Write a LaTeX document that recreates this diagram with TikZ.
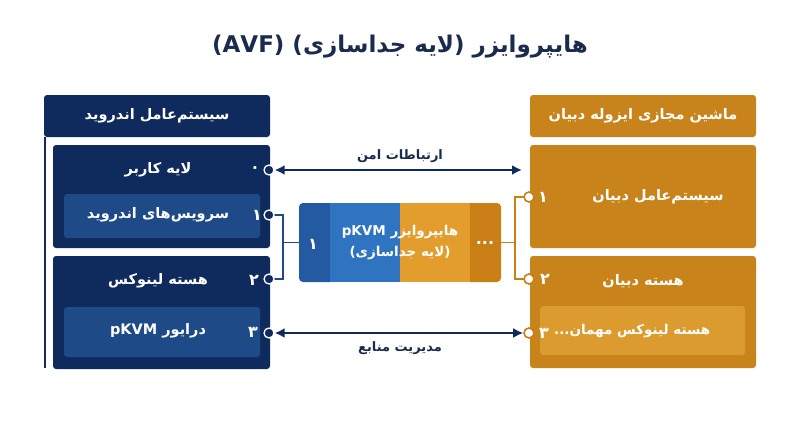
\documentclass[tikz,border=0pt]{standalone}
\usepackage{fontspec}
\newfontfamily\fa[Script=Arabic]{DejaVu Sans}
\TeXXeTstate=1
\usetikzlibrary{arrows.meta}
\definecolor{navy}{HTML}{0F2A5C}
\definecolor{navyin}{HTML}{1E4A88}
\definecolor{titlec}{HTML}{1A2B4E}
\definecolor{orng}{HTML}{C8841A}
\definecolor{orngin}{HTML}{DC9B2E}
\definecolor{hbA}{HTML}{235AA2}
\definecolor{hbB}{HTML}{2E74C1}
\definecolor{hoA}{HTML}{E39D2C}
\definecolor{hoB}{HTML}{C97F16}
\newcommand\RL[1]{\beginR#1\endR}
\begin{document}
\begin{tikzpicture}[x=1pt,y=-1pt,
  box/.style={rectangle, rounded corners=3pt, inner sep=0pt, draw=none},
  txt/.style={font=\fa\bfseries\fontsize{14.5}{17}\selectfont, text=white, inner sep=0pt},
  htxt/.style={font=\fa\bfseries\fontsize{13.5}{16}\selectfont, text=white, inner sep=0pt},
  num/.style={font=\fa\bfseries\fontsize{16}{18}\selectfont, text=white, inner sep=0pt},
  lbl/.style={font=\fa\bfseries\fontsize{13}{15}\selectfont, text=titlec, inner sep=0pt},
  lport/.style={circle, fill=navy, draw=white, line width=1.3pt, minimum size=10pt, inner sep=0pt},
  rport/.style={circle, fill=white, draw=hoB, line width=1.6pt, minimum size=10pt, inner sep=0pt},
  navline/.style={draw=navyin, line width=1.6pt},
  orline/.style={draw=hoB, line width=1.6pt},
  arr/.style={draw=navy, line width=2pt, {Latex[length=10pt,width=10pt]}-{Latex[length=10pt,width=10pt]}},
  seg/.style={rectangle, inner sep=0pt, draw=none, minimum height=79pt}
]
\useasboundingbox[fill=white] (0,0) rectangle (800,447);

% title
\node[font=\fa\bfseries\fontsize{23}{27}\selectfont, text=titlec, inner sep=0pt] (title) at (400,47)
  {\RL{هایپروایزر (لایه جداسازی) \beginL(AVF)\endL}};

% ---------- left column ----------
\node[box, fill=navy, minimum width=226pt, minimum height=42pt] (lhead) at (157,116) {};
\node[txt] (lheadt) at (lhead) {\RL{سیستم‌عامل اندروید}};
\draw[navy, line width=2pt] (lhead.south west) ++(1.5,0) coordinate (lvtop) -- ++(0,231) coordinate (lvbot);

\node[box, fill=navy, minimum width=217pt, minimum height=103pt] (lbox1) at (161.5,196.5) {};
\node[box, fill=navyin, minimum width=196pt, minimum height=44pt] (lin1) at (162,216) {};
\node[box, fill=navy, minimum width=217pt, minimum height=113pt] (lbox2) at (161.5,312.5) {};
\node[box, fill=navyin, minimum width=196pt, minimum height=50pt] (lin2) at (162,332) {};

\node[txt] (tuser) at (158,170) {\RL{لایه کاربر}};
\node[txt] (tserv) at (158,215) {\RL{سرویس‌های اندروید}};
\node[txt] (tlk) at (158,281) {\RL{هسته لینوکس}};
\node[txt] (tdrv) at (158,331) {\RL{درایور \beginL pKVM\endL}};

\node[num] (n0) at (255,170) {\RL{۰}};
\node[num] (n1) at (257,215) {\RL{۱}};
\node[num] (n2) at (254,280) {\RL{۲}};
\node[num] (n3) at (253,332) {\RL{۳}};

% ---------- right column ----------
\node[box, fill=orng, minimum width=226pt, minimum height=42pt] (rhead) at (643,116) {};
\node[txt] (rheadt) at (rhead) {\RL{ماشین مجازی ایزوله دبیان}};
\node[box, fill=orng, minimum width=226pt, minimum height=103pt] (rbox1) at (643,196.5) {};
\node[box, fill=orng, minimum width=226pt, minimum height=112pt] (rbox2) at (643,312) {};
\node[box, fill=orngin, minimum width=205pt, minimum height=49pt] (rin2) at (642.5,330.5) {};

\node[txt] (tdos) at (658,197) {\RL{سیستم‌عامل دبیان}};
\node[txt] (tdk) at (643,281) {\RL{هسته دبیان}};
\node[txt, font=\fa\bfseries\fontsize{13.5}{16}\selectfont, anchor=west] (tguest) at (554,331) {\RL{هسته لینوکس مهمان...}};

\node[num] (m1) at (543,197) {\RL{۱}};
\node[num] (m2) at (545,279) {\RL{۲}};
\node[num] (m3) at (544,333) {\RL{۳}};

% ---------- hypervisor ----------
\node[seg, fill=hbA, rounded corners=4pt, minimum width=35pt] (hs1) at (316.5,242.5) {};
\node[seg, fill=hbB, minimum width=70pt] (hs2) at (365,242.5) {};
\node[seg, fill=hoB, rounded corners=4pt, minimum width=35pt] (hs4) at (483.5,242.5) {};
\node[seg, fill=hoA, minimum width=70pt] (hs3) at (435,242.5) {};
\node[htxt] (hyt1) at (400,232) {\RL{هایپروایزر \beginL pKVM\endL}};
\node[htxt] (hyt2) at (400,253) {\RL{(لایه جداسازی)}};
\node[num] (hn1) at (313,244) {\RL{۱}};
\node[num] (hdots) at (485,243) {...};

% ---------- connectors ----------
\coordinate (ljoin) at (283,242.5);
\coordinate (rjoin) at (515,242.5);
\coordinate (lp1c) at (269,215);
\coordinate (lp2c) at (269,279);
\coordinate (rp1c) at (529,197);
\coordinate (rp2c) at (529,279);
\draw[navline] (lp1c) -| (ljoin) |- (lp2c);
\draw[navline] (ljoin) -- (hs1.west);
\draw[orline] (rp1c) -| (rjoin) |- (rp2c);
\draw[orline] (rjoin) -- (hs4.east);

\node[lport] (lp0) at (269,170) {};
\node[lport] (lp1) at (lp1c) {};
\node[lport] (lp2) at (lp2c) {};
\node[lport] (lp3) at (269,333) {};
\node[rport] (rp1) at (rp1c) {};
\node[rport] (rp2) at (rp2c) {};
\node[rport] (rp3) at (529,333) {};

\coordinate (rtip) at (522,170);
\draw[arr] (lp0.east) -- (rtip);
\draw[arr] (lp3.east) -- (rp3.west);
\node[lbl] (lsec) at (400,156) {\RL{ارتباطات امن}};
\node[lbl] (lres) at (400,348) {\RL{مدیریت منابع}};
\end{tikzpicture}
\end{document}
